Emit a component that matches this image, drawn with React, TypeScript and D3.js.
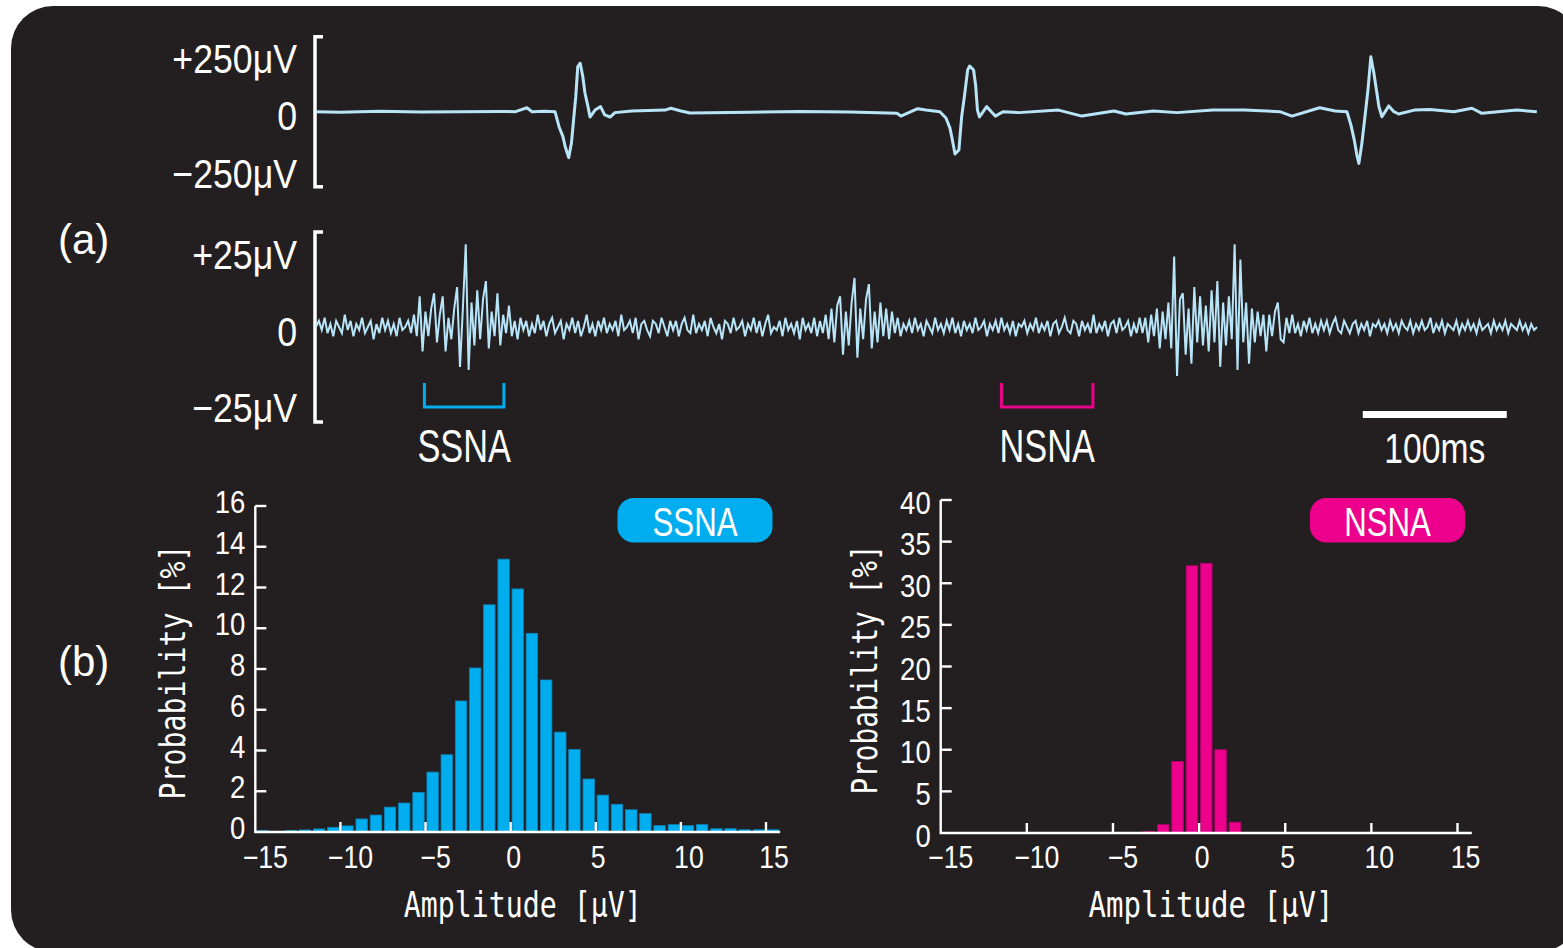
import React from 'react';
import * as d3 from 'd3';

const W = 1563;
const H = 948;

// top trace (ECG), breakpoints
const ecgTime = [
  0, 16.7, 44.4, 72.2, 100, 127.8, 138.6, 146.5, 150, 159, 166, 168.8, 171.5, 173.1, 175.5, 177.4,
  178.9, 180.4, 181.8, 183.5, 185.3, 186.8, 188.9, 190.3, 193.8, 197.6, 200.5, 204.2, 207.6, 219.2,
  242.4, 246.5, 253.5, 259.7, 301.4, 336, 370.8, 403.5, 406.2, 417.9, 423.6, 433.3, 437.5, 440.3,
  441.7, 443.8, 446.5, 448.4, 450.3, 452.6, 454, 456.7, 458.1, 459.4, 460.8, 465.8, 469, 471.8,
  477.1, 488.2, 515.7, 531.9, 554.2, 562.5, 581.6, 597.9, 622.9, 644.8, 669.4, 677.8, 697, 707.9,
  716, 718.8, 721.1, 722.9, 724.3, 726.4, 728.5, 730.6, 732.6, 734.7, 736.8, 738.2, 740.3, 745.1,
  748.6, 751.9, 762.8, 773.6, 790.3, 802.8, 809.7, 834, 847.9,
];
const ecgValue = [
  0, -2, 2, -1, 0, 1, 0, 17, 0, 2, 0, -65, -108, -152, -199, -136,
  -36, 65, 195, 210, 152, 81, 22, -23, 7, 22, -14, -23, -4, 3,
  7, 15, 3, -6, -2, 1, -1, -7, -19, 13, 7, 0, -27, -71,
  -114, -183, -166, -22, 65, 181, 198, 181, 116, 7, -23, 22, 0, -19,
  0, -4, 7, -19, 3, -10, 3, -4, 7, 7, 0, -19, 17, 3,
  0, -58, -123, -188, -224, -136, -22, 94, 238, 168, 81, 22, -22, 25,
  0, -10, 7, 10, 0, 15, -7, 7, 0,
];

// second trace (nerve activity), one sample every 2 ms
const nerveStepMs = 2;
const nerveValue = [
  0, 2, -1, 3, -2, 1, -3, 2, 0, -2, 4, -1, 2, -3, 1, -1, 3, -2, 0, 2, -4, 1, -2, 3, -1,
  2, -2, 1, -3, 3, -1, 0, 2, -2, 4, -3, 10, -8, 5, -3, 6, 11, -5, 4, 10, -8, 3, -4, 6, 13,
  -13, 6, 27, -14, 8, -6, 12, -4, 9, 15, -7, 5, -3, 11, -6, 4, -2, 7, -3, 2, -4, 3, -1, 2, -3,
  1, -2, 4, -1, 2, -3, 1, 3, -2, 0, 2, -4, 1, -1, 3, -2, 2, -3, 0, 4, -2, 1, -3, 2, -1,
  3, -2, 1, -1, 2, -3, 4, -1, 0, 2, -2, 3, -4, 1, 2, -1, -3, 2, 1, -2, 3, 0, -3, 2, -1,
  2, -3, 1, 3, -1, -2, 4, -2, 1, -1, 2, -3, 3, 0, -2, 1, -4, 2, 1, -2, 3, -1, 0, 2, -3,
  1, -1, 3, -2, 2, -3, 1, 4, -2, 0, -1, 2, -3, 3, -1, 1, -2, 2, -4, 3, -1, 1, -2, 3, -3,
  2, -2, 4, -4, 6, -5, 7, 10, -9, 5, -6, 8, 16, -10, 6, -4, 9, 14, -7, 5, -5, 8, -3, 6, -4,
  5, -2, 3, -3, 1, -1, 2, -2, 3, -1, 1, -3, 2, 0, -2, 3, -1, 1, -2, 2, -1, 3, -2, 1, -3,
  2, -1, 1, -2, 3, -1, 0, 2, -3, 1, -1, 2, -2, 3, -1, 1, -2, 2, -3, 1, 0, 2, -2, 1, -1,
  3, -2, 1, -1, 2, -3, 1, 2, -2, 0, 3, -1, -2, 2, 1, -3, 2, -1, 1, -2, 4, -2, 1, -1, 2,
  -3, 1, 2, -2, 3, -1, 0, 2, -3, 1, -2, 3, -2, 3, -5, 4, -3, 6, -7, 5, -4, 8, -7, 23, -16,
  9, 11, -9, 6, -12, 13, -5, 10, -6, 7, -8, 12, -5, 15, -13, 8, -6, 10, -4, 27, -14, 22, -5, 8, -12,
  6, -5, 5, -3, 4, -8, 4, -3, 5, 8, -4, -5, 3, -2, 4, -2, 1, -3, 2, -1, 3, -2, 1, -2, 2,
  -1, 2, -2, 1, 3, -1, -2, 2, 0, -2, 1, 2, -2, 1, -1, 2, -3, 1, 0, 2, -1, 1, -2, 2, -1,
  1, -2, 2, 0, -1, 2, -2, 1, -1, 2, -1, 0, 3, -2, 1, -1, 2, -2, 1, 0, -1, 2, -2, 1, -1,
  2, -1, 1, -2, 2, -1, 0, 1, -2, 2, -1, 1, -1, 2, -2, 1, 0, -1, 2, -1, 1, -2, 1, -1, 0,
];

const windowLabels = ['SSNA', 'NSNA'];
const windowStart = [75.3, 476];
const windowEnd = [130.5, 539.6];
const windowColors = ['#00aeef', '#ec008c'];
const scaleBarStart = 727;
const scaleBarMs = 100;

// histograms (bin lower edge in µV, probability in %)
const binLower = [
  -15, -14.17, -13.33, -12.5, -11.67, -10.83, -10, -9.17, -8.33, -7.5, -6.67, -5.83, -5,
  -4.17, -3.33, -2.5, -1.67, -0.83, 0, 0.83, 1.67, 2.5, 3.33, 4.17, 5, 5.83, 6.67, 7.5,
  8.33, 9.17, 10, 10.83, 11.67, 12.5, 13.33, 14.17, 15,
];
const binWidth = 0.833;
const ssnaProb = [
  0.08, 0, 0.08, 0.1, 0.15, 0.23, 0.3, 0.64, 0.83, 1.22, 1.42, 1.94, 2.94,
  3.79, 6.43, 8.05, 11.15, 13.39, 11.93, 9.75, 7.46, 4.9, 4.05, 2.6, 1.81, 1.36, 1.09, 0.9,
  0.31, 0.36, 0.31, 0.36, 0.16, 0.16, 0.11, 0.11, 0.11,
];
const nsnaProb = [
  0, 0, 0, 0, 0, 0, 0, 0, 0, 0, 0, 0, 0,
  0, 0.2, 1.0, 8.6, 32.1, 32.4, 10.0, 1.3, 0, 0, 0, 0, 0, 0, 0,
  0, 0, 0, 0, 0, 0, 0, 0, 0,
];
const ampTicks = [-15, -10, -5, 0, 5, 10, 15];
const ssnaTicks = [0, 2, 4, 6, 8, 10, 12, 14, 16];
const nsnaTicks = [0, 5, 10, 15, 20, 25, 30, 35, 40];

const NUM = "'Liberation Sans', Arial, sans-serif";
const MONO = "'DejaVu Sans Mono', 'Liberation Mono', monospace";
const TRACE = '#b8e4f8';

const fmt = (v: number) => (v < 0 ? '\u2212' + Math.abs(v) : String(v));

function CText({ x, y, size, sx = 1, anchor = 'start', family = NUM, fill = '#fff', children }: any) {
  return (
    <text
      transform={`translate(${x},${y}) scale(${sx},1)`}
      fontSize={size}
      fontFamily={family}
      textAnchor={anchor}
      fill={fill}
    >
      {children}
    </text>
  );
}

function Histogram({ values, color, edge, x0, x1, y0, y1, yMax, yTicks, yLabelDy, pillX, label, titleX, titleLen, xTitleLen }: any) {
  const x = d3.scaleLinear().domain([-15, 15]).range([x0, x1]);
  const y = d3.scaleLinear().domain([0, yMax]).range([y0, y1]);
  const axisEnd = x(15.83);
  const labelShift = (v: number) => (v < 0 ? 10 : v === 0 ? 3 : v === 5 ? 2.5 : 8);
  return (
    <g>
      {values.map((v: number, i: number) =>
        v > 0 ? (
          <rect
            key={i}
            x={x(binLower[i]) + 1.4}
            width={x(binLower[i] + binWidth) - x(binLower[i]) - 2.8}
            y={y(v)}
            height={y(0) - y(v)}
            fill={color}
            stroke={edge}
            strokeWidth={0.8}
          />
        ) : null
      )}
      <path d={`M${x0},${y(yMax)}V${y0}H${axisEnd}`} fill="none" stroke="#fff" strokeWidth={2.4} />
      {yTicks.map((t: number) => (
        <g key={'y' + t}>
          {t > 0 && <line x1={x0} x2={x0 + 11} y1={y(t)} y2={y(t)} stroke="#fff" strokeWidth={2.4} />}
          <CText x={x0 - 10} y={y(t) + yLabelDy} size={32} sx={0.86} anchor="end">{t}</CText>
        </g>
      ))}
      {ampTicks.map((t) => (
        <g key={'x' + t}>
          {t > -15 && <line x1={x(t)} x2={x(t)} y1={y0} y2={y0 - 10} stroke="#fff" strokeWidth={2.4} />}
          <CText x={x(t) + labelShift(t)} y={868} size={31} sx={0.86} anchor="middle">{fmt(t)}</CText>
        </g>
      ))}
      <text
        transform={`translate(${titleX},${(y0 + y1) / 2 + 3}) rotate(-90)`}
        fontSize={36}
        fontFamily={MONO}
        fill="#fff"
        textAnchor="middle"
        textLength={titleLen}
        lengthAdjust="spacingAndGlyphs"
      >
        Probability [%]
      </text>
      <text
        x={(x0 + x1) / 2 + 12}
        y={917}
        fontSize={35}
        fontFamily={MONO}
        fill="#fff"
        textAnchor="middle"
        textLength={xTitleLen}
        lengthAdjust="spacingAndGlyphs"
      >
        Amplitude [μV]
      </text>
      <rect x={pillX} y={498} width={155} height={44.5} rx={16} fill={color} />
      <CText x={pillX + 77.5} y={536} size={40} sx={0.78} anchor="middle">{label}</CText>
    </g>
  );
}

export default function App() {
  const t = d3.scaleLinear().domain([0, 848]).range([316, 1537]);
  const yEcg = d3.scaleLinear().domain([-325, 325]).range([186.7, 36.7]);
  const yNerve = d3.scaleLinear().domain([-31, 31]).range([422, 232]);

  const ecgLine = d3
    .line<number>()
    .x((_, i) => t(ecgTime[i]))
    .y((v) => yEcg(v));
  const nerveLine = d3
    .line<number>()
    .x((_, i) => t(i * nerveStepMs))
    .y((v) => yNerve(v));

  const bracket = (y1: number, y2: number) => `M323,${y1}H315V${y2}H323`;

  return (
    <svg width={W} height={H} style={{ position: 'absolute', left: 0, top: 0, background: '#fff' }}>
      <rect x={11} y={6} width={1569} height={946} rx={42} fill="#231f20" />

      {/* (a) traces */}
      <CText x={58} y={254} size={42}>(a)</CText>
      <CText x={58} y={676} size={42}>(b)</CText>

      <path d={bracket(yEcg(325), yEcg(-325))} fill="none" stroke="#fff" strokeWidth={3.5} />
      {[250, 0, -250].map((v) => (
        <CText key={v} x={297} y={yEcg(v) + 18.5} size={41} sx={0.87} anchor="end">
          {v === 0 ? '0' : (v > 0 ? '+' : '\u2212') + Math.abs(v) + 'μV'}
        </CText>
      ))}
      <path d={ecgLine(ecgValue) || ''} fill="none" stroke={TRACE} strokeWidth={3} strokeLinejoin="round" />

      <path d={bracket(yNerve(31), yNerve(-31))} fill="none" stroke="#fff" strokeWidth={3.5} />
      {[25, 0, -25].map((v) => (
        <CText key={v} x={297} y={yNerve(v) + 18.5} size={41} sx={0.87} anchor="end">
          {v === 0 ? '0' : (v > 0 ? '+' : '\u2212') + Math.abs(v) + 'μV'}
        </CText>
      ))}
      <path d={nerveLine(nerveValue) || ''} fill="none" stroke={TRACE} strokeWidth={2} />

      {windowLabels.map((name, i) => (
        <g key={name}>
          <path
            d={`M${t(windowStart[i])},383V407H${t(windowEnd[i])}V383`}
            fill="none"
            stroke={windowColors[i]}
            strokeWidth={3}
          />
          <CText x={(t(windowStart[i]) + t(windowEnd[i])) / 2} y={462} size={47} sx={0.73} anchor="middle">
            {name}
          </CText>
        </g>
      ))}

      <rect x={t(scaleBarStart)} y={411} width={t(scaleBarStart + scaleBarMs) - t(scaleBarStart)} height={7} fill="#fff" />
      <CText x={(t(scaleBarStart) + t(scaleBarStart + scaleBarMs)) / 2} y={463} size={42} sx={0.8} anchor="middle">
        {scaleBarMs}ms
      </CText>

      {/* (b) histograms */}
      <Histogram
        values={ssnaProb}
        color="#00aeef"
        edge="#0a86bd"
        x0={255.3}
        x1={766}
        y0={832}
        y1={506}
        yMax={16}
        yTicks={ssnaTicks}
        yLabelDy={7}
        pillX={617.5}
        label="SSNA"
        titleX={185}
        titleLen={255}
        xTitleLen={238}
      />
      <Histogram
        values={nsnaProb}
        color="#ec008c"
        edge="#b3006b"
        x0={940.7}
        x1={1457.5}
        y0={833}
        y1={500}
        yMax={40}
        yTicks={nsnaTicks}
        yLabelDy={13.5}
        pillX={1310}
        label="NSNA"
        titleX={877}
        titleLen={250}
        xTitleLen={245}
      />
    </svg>
  );
}
